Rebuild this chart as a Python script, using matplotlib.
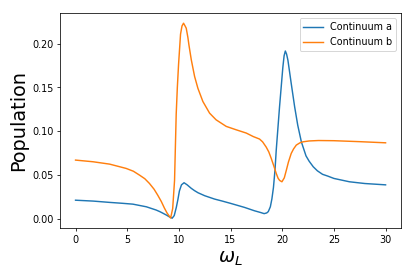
import matplotlib
matplotlib.use("Agg")
import matplotlib.pyplot as plt

# Continuum a (blue)
xa = [0, 1.7, 3.3, 4.5, 5.55, 6.85, 7.8, 8.15, 8.45, 8.8, 9.1, 9.35, 9.55, 9.75, 9.9,
      10.05, 10.25, 10.5, 10.8, 11.2, 11.5, 11.85, 12.5, 13.45, 14.2, 15.0, 16.35, 17.3,
      17.9, 18.25, 18.5, 18.65, 18.85, 19.0, 19.15, 19.3, 19.42, 19.74, 20.06, 20.18,
      20.3, 20.42, 20.55, 20.87, 21.2, 21.5, 21.85, 22.3, 22.6, 23.0, 23.4, 23.9, 24.4,
      25.0, 26.5, 28.0, 30.0]
ya = [0.0215, 0.0205, 0.0190, 0.0180, 0.0170, 0.0140, 0.0103, 0.0085, 0.0067, 0.0045,
      0.0024, 0.0010, 0.0040, 0.0133, 0.0220, 0.0320, 0.0390, 0.0414, 0.0390, 0.0350,
      0.0325, 0.0300, 0.0266, 0.0228, 0.0205, 0.0179, 0.0133, 0.0095, 0.0075, 0.0062,
      0.0070, 0.0085, 0.0140, 0.0230, 0.0360, 0.0560, 0.0786, 0.1280, 0.1730, 0.1860,
      0.1915, 0.1880, 0.1810, 0.1545, 0.1280, 0.1070, 0.0880, 0.0720, 0.0660, 0.0596,
      0.0550, 0.0510, 0.0490, 0.0463, 0.0425, 0.0405, 0.0390]

# Continuum b (orange)
xb = [0, 1.7, 3.3, 4.9, 5.6, 6.2, 6.7, 7.15, 7.6, 7.95, 8.3, 8.6, 8.85, 9.0, 9.2, 9.4,
      9.58, 9.74, 9.85, 9.97, 10.16, 10.3, 10.45, 10.6, 10.71, 10.87, 10.97, 11.2,
      11.52, 11.84, 12.32, 12.97, 13.6, 14.58, 15.55, 16.52, 17.2, 17.8, 18.1, 18.45,
      18.7, 18.94, 19.2, 19.42, 19.6, 19.75, 19.97, 20.2, 20.4, 20.6, 20.87, 21.1,
      21.36, 21.7, 22.0, 22.6, 23.5, 25.0, 27.5, 30.0]
yb = [0.0672, 0.0653, 0.0626, 0.0577, 0.0545, 0.0500, 0.0460, 0.0406, 0.0340, 0.0273,
      0.0200, 0.0125, 0.0070, 0.0045, 0.0012, 0.0120, 0.0440, 0.1196, 0.1500, 0.1765,
      0.2107, 0.2200, 0.2232, 0.2200, 0.2175, 0.2070, 0.1985, 0.1815, 0.1625, 0.1490,
      0.1340, 0.1207, 0.1131, 0.1056, 0.1017, 0.0980, 0.0940, 0.0912, 0.0880, 0.0820,
      0.0765, 0.0690, 0.0600, 0.0520, 0.0465, 0.0440, 0.0425, 0.0470, 0.0558, 0.0650,
      0.0748, 0.0800, 0.0843, 0.0868, 0.0880, 0.0890, 0.0895, 0.0893, 0.0882, 0.0869]

labels = ["Continuum a", "Continuum b"]

fig = plt.figure(figsize=(6.0, 4.005), dpi=69.2)
ax = fig.add_subplot(111)
fig.subplots_adjust(left=0.1446, right=0.966, bottom=0.177, top=0.951)
ax.plot(xa, ya, color="#1f77b4", label=labels[0])
ax.plot(xb, yb, color="#ff7f0e", label=labels[1])
ax.set_xlabel(r"$\omega_L$", fontsize=20)
ax.set_ylabel("Population", fontsize=20)
ax.legend(loc="upper right")
fig.savefig("out.png", dpi=69.2)
